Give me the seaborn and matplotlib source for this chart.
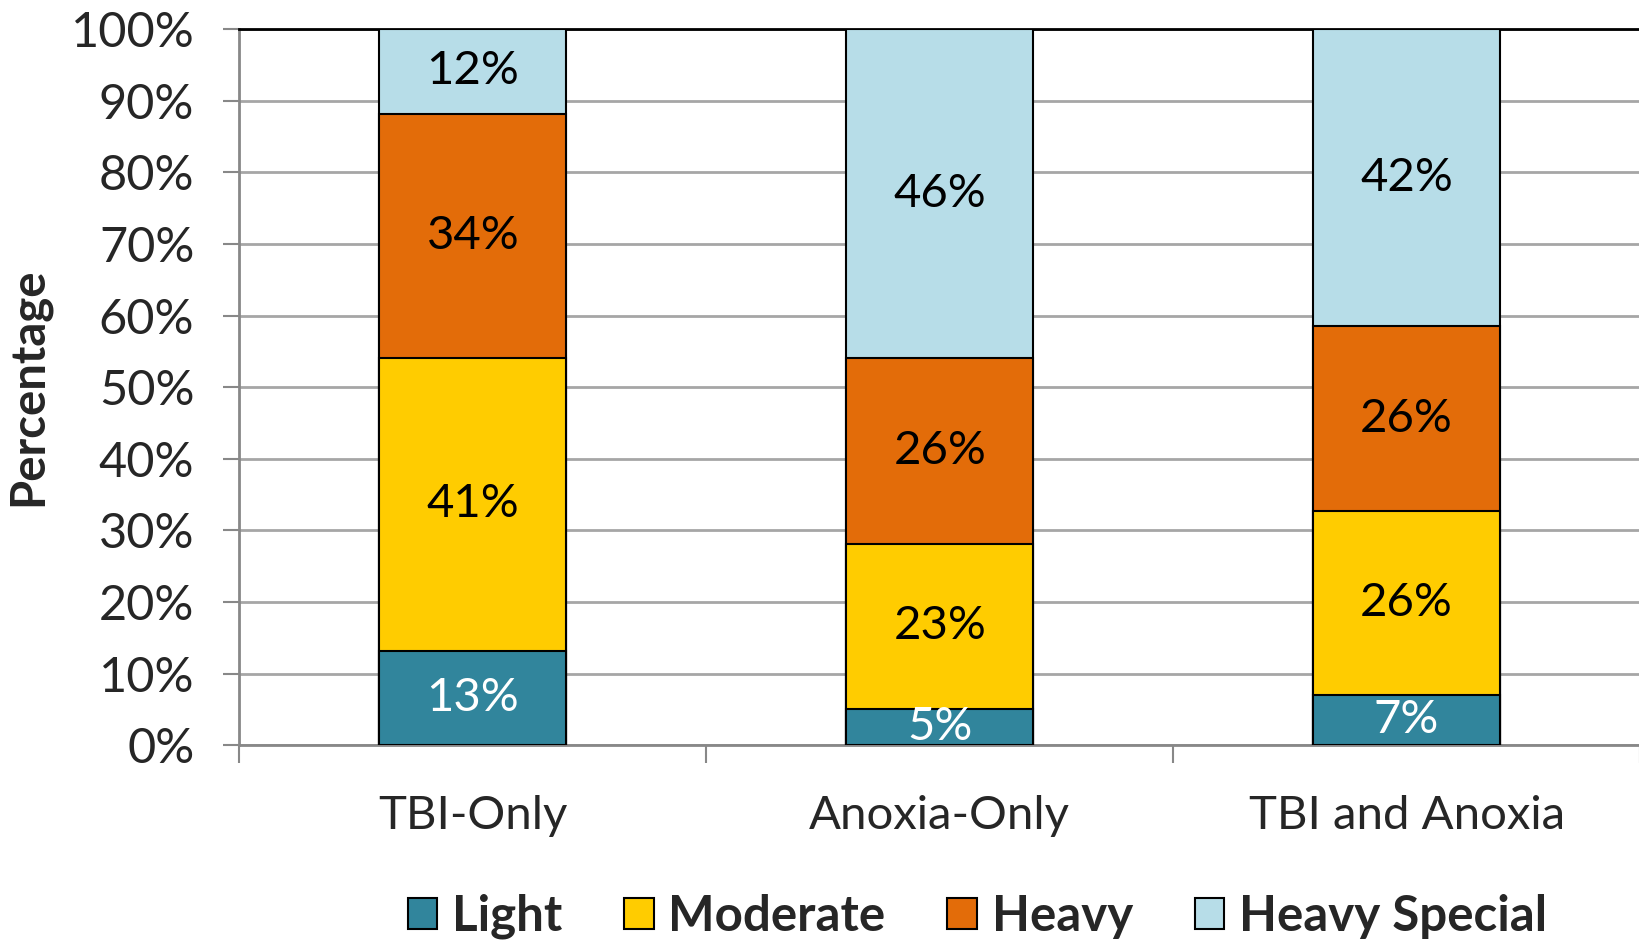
import matplotlib
matplotlib.use("Agg")
import matplotlib.pyplot as plt
import seaborn as sns
import pandas as pd
import numpy as np
from matplotlib.patches import Patch

categories = ["TBI-Only", "Anoxia-Only", "TBI and Anoxia"]
series = ["Light", "Moderate", "Heavy", "Heavy Special"]
light = [13.2, 5.1, 7.0]
moderate = [40.9, 23.0, 25.7]
heavy = [34.1, 26.0, 25.8]
heavy_special = [11.8, 45.9, 41.5]
yticks = [0, 10, 20, 30, 40, 50, 60, 70, 80, 90, 100]

colors = {"Light": "#31859C", "Moderate": "#FFCC00", "Heavy": "#E36C09", "Heavy Special": "#B7DDE8"}
label_colors = {"Light": "white", "Moderate": "black", "Heavy": "black", "Heavy Special": "black"}

sns.set_theme(style="white")
plt.rcParams["font.family"] = ["Lato", "DejaVu Sans"]

values = {"Light": light, "Moderate": moderate, "Heavy": heavy, "Heavy Special": heavy_special}
df = pd.DataFrame(values, index=categories)
cum = df.cumsum(axis=1)

fig = plt.figure(figsize=(16.4, 9.41), dpi=100)
ax = fig.add_axes([0.146, 0.208, 0.854, 0.761])

# draw cumulative bars from top to bottom so each segment shows
for s in reversed(series):
    d = pd.DataFrame({"cat": categories, "val": cum[s].values})
    sns.barplot(data=d, x="cat", y="val", color=colors[s], width=0.4,
                edgecolor="black", linewidth=1.5, ax=ax, zorder=3, saturation=1)

# labels
for s in series:
    bottoms = cum[s].values - df[s].values
    for i, c in enumerate(categories):
        v = df.loc[c, s]
        ax.text(i, bottoms[i] + v / 2, f"{v:.0f}%", ha="center", va="center",
                fontsize=34, color=label_colors[s], zorder=5, clip_on=True)

ax.set_xlim(-0.5, 2.5)
ax.set_ylim(0, 100)
ax.set_yticks(yticks)
ax.set_yticklabels([f"{v}%" for v in yticks], fontsize=35)
ax.set_xticks(range(len(categories)))
ax.set_xticklabels(categories, fontsize=34)
ax.set_xticks([-0.5, 0.5, 1.5, 2.5], minor=True)
ax.tick_params(axis="x", which="major", length=0, pad=36)
ax.tick_params(axis="x", which="minor", length=13, width=1.5, color="#888888", direction="out", bottom=True)
ax.tick_params(axis="y", which="major", length=11.5, width=1.5, color="#888888", direction="out", left=True, pad=21)
ax.set_xlabel("")
ax.set_ylabel("Percentage", fontsize=34, fontweight="bold")
ax.yaxis.set_label_coords(-0.135, 0.5)

ax.grid(axis="y", color="#A6A6A6", linewidth=2, zorder=0)
ax.set_axisbelow(True)
for side in ["left", "bottom"]:
    ax.spines[side].set_color("#888888")
    ax.spines[side].set_linewidth(2)
for side in ["top", "right"]:
    ax.spines[side].set_color("black")
    ax.spines[side].set_linewidth(2)
    ax.spines[side].set_visible(True)

handles = [Patch(facecolor=colors[s], edgecolor="black", linewidth=1.5, label=s) for s in series]
leg = fig.legend(handles=handles, loc="center", bbox_to_anchor=(0.596, 0.026), ncol=4,
                 frameon=False, prop={"size": 35.5, "weight": "bold"},
                 handlelength=0.6, handleheight=0.6, handletextpad=0.3, columnspacing=1.25)

fig.savefig("out.png", dpi=100)
